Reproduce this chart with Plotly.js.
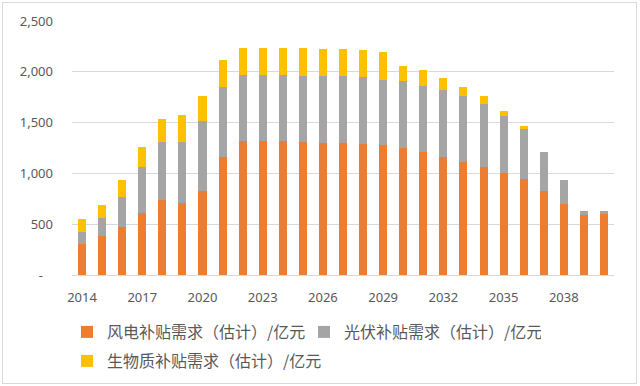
<!DOCTYPE html>
<html>
<head>
<meta charset="utf-8">
<script src="https://cdn.plot.ly/plotly-3.0.1.min.js"></script>
<style>
html,body{margin:0;padding:0;background:#fff;}
#wrap{position:relative;width:640px;height:386px;}
#frame{position:absolute;left:2px;top:2px;width:635px;height:382px;border:1px solid #d9d9d9;box-sizing:border-box;pointer-events:none;}
#chart{position:absolute;left:0;top:0;width:640px;height:386px;}
</style>
</head>
<body>
<div id="wrap"><div id="chart"></div><div id="frame"></div></div>
<script>
const years = [2014,2015,2016,2017,2018,2019,2020,2021,2022,2023,2024,2025,2026,2027,2028,2029,2030,2031,2032,2033,2034,2035,2036,2037,2038,2039,2040];
const wind = [307,379,477,615,739,707,825,1159,1316,1316,1316,1309,1302,1302,1289,1279,1250,1214,1159,1109,1067,1001,942,825,700,589,605];
const solar = [118,184,295,445,570,605,687,693,648,648,648,651,652,652,655,645,655,648,661,652,615,563,491,389,236,39,23];
const biomass = [131,130,164,203,229,262,252,269,271,271,271,275,271,271,271,275,153,154,117,91,75,46,30,0,0,0,0];
const seriesNames = ["风电补贴需求（估计）/亿元","光伏补贴需求（估计）/亿元","生物质补贴需求（估计）/亿元"];
const yTickVals = [0,500,1000,1500,2000,2500];
const yTickText = ["-\u00a0\u00a0\u00a0","500","1,000","1,500","2,000","2,500"];
const xTickVals = [2014,2017,2020,2023,2026,2029,2032,2035,2038];

const colors = ["#ED7D31","#A5A5A5","#FFC000"];
const legendIds = ["legend","legend","legend2"];
const data = [wind, solar, biomass].map((v,i)=>({
  type:"bar", x:years, y:v, name:seriesNames[i],
  marker:{color:colors[i]}, hoverinfo:"skip", legend:legendIds[i]
}));

const fam = "'Noto Sans', 'Noto Sans CJK SC', sans-serif";
const legFont = {family:"'Noto Sans CJK SC', sans-serif", size:16, color:"#595959"};
const legBase = {
  orientation:"h", xanchor:"left", yanchor:"middle", xref:"container", yref:"container",
  font:legFont, entrywidthmode:"pixels", traceorder:"normal",
  itemwidth:30, bgcolor:"rgba(0,0,0,0)"
};
const layout = {
  width:640, height:386,
  margin:{l:72, r:26, t:21, b:111},
  paper_bgcolor:"rgba(0,0,0,0)", plot_bgcolor:"#fff",
  barmode:"stack", bargap:0.6,
  font:{family:fam, size:13, color:"#595959"},
  showlegend:true,
  xaxis:{
    type:"linear", range:[2013.5,2040.5], tickvals:xTickVals, ticktext:xTickVals.map(String),
    showgrid:false, zeroline:false, showline:true, linecolor:"#d9d9d9", linewidth:1,
    ticks:"", tickfont:{family:fam,size:13,color:"#595959"}, ticklabelstandoff:10
  },
  yaxis:{
    range:[0,2500], tickvals:yTickVals, ticktext:yTickText,
    showgrid:true, gridcolor:"#d9d9d9", gridwidth:1, zeroline:false, showline:false,
    ticks:"", tickfont:{family:fam,size:13,color:"#595959"}, ticklabelstandoff:18
  },
  legend:Object.assign({}, legBase, {x:67/640, y:1-332/386, entrywidth:192}),
  legend2:Object.assign({}, legBase, {x:67/640, y:1-361/386, entrywidth:300})
};
Plotly.newPlot("chart", data, layout, {staticPlot:true, displayModeBar:false});
</script>
</body>
</html>
